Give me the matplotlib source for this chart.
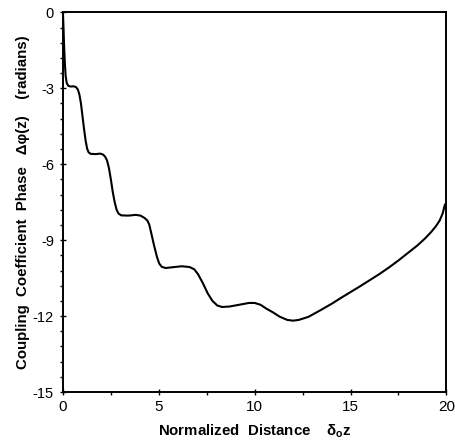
import matplotlib
matplotlib.use("Agg")
import matplotlib.pyplot as plt
from matplotlib.ticker import MultipleLocator

plt.rcParams['font.family'] = ['Liberation Sans', 'DejaVu Sans']
plt.rcParams['mathtext.fontset'] = 'custom'
plt.rcParams['mathtext.rm'] = 'Liberation Sans'
plt.rcParams['mathtext.bf'] = 'Liberation Sans:bold'

# Normalized distance (delta_o z)
distance = [0, 0.03, 0.06, 0.10, 0.14, 0.20, 0.28, 0.40, 0.55, 0.68, 0.78,
            0.86, 0.94, 1.02, 1.10, 1.18, 1.26, 1.34, 1.45, 1.70, 1.95, 2.10,
            2.20, 2.30, 2.40, 2.50, 2.60, 2.70, 2.80, 2.90, 3.05, 3.40, 3.80,
            4.05, 4.25, 4.40, 4.50, 4.60, 4.75, 4.90, 5.02, 5.15, 5.35, 5.70,
            6.20, 6.60, 6.85, 7.05, 7.30, 7.55, 7.80, 8.05, 8.30, 8.70, 9.20,
            9.70, 10.00, 10.30, 10.60, 10.95, 11.30, 11.70, 12.00, 12.30,
            12.80, 13.40, 14.00, 14.50, 15.00, 15.50, 16.00, 16.50, 17.00,
            17.50, 18.00, 18.50, 18.90, 19.20, 19.45, 19.65, 19.80, 19.92]
# Coupling coefficient phase (radians)
phase = [0, -0.6, -1.3, -2.0, -2.5, -2.8, -2.9, -2.93, -2.92, -2.95, -3.05,
         -3.25, -3.60, -4.10, -4.60, -5.05, -5.38, -5.53, -5.59, -5.60, -5.58,
         -5.62, -5.70, -5.85, -6.15, -6.60, -7.10, -7.50, -7.80, -7.95, -8.02,
         -8.03, -8.00, -8.03, -8.12, -8.22, -8.38, -8.70, -9.20, -9.65, -9.92,
         -10.05, -10.10, -10.07, -10.03, -10.06, -10.15, -10.35, -10.70,
         -11.10, -11.40, -11.58, -11.64, -11.62, -11.55, -11.48, -11.48,
         -11.55, -11.70, -11.85, -12.02, -12.15, -12.18, -12.15, -12.03,
         -11.78, -11.52, -11.28, -11.05, -10.82, -10.58, -10.34, -10.08,
         -9.80, -9.50, -9.20, -8.92, -8.68, -8.45, -8.22, -7.95, -7.60]

x_ticks = [0, 5, 10, 15, 20]
y_ticks = [0, -3, -6, -9, -12, -15]

fig = plt.figure(figsize=(4.56, 4.42), dpi=100)
ax = fig.add_axes([0.138, 0.113, 0.841, 0.859])
ax.plot(distance, phase, color='black', lw=1.5)
ax.set_xlim(0, 20)
ax.set_ylim(-15, 0)
ax.set_xticks(x_ticks)
ax.set_yticks(y_ticks)
ax.set_xticklabels([str(v) for v in x_ticks])
ax.set_yticklabels([str(v) for v in y_ticks])
ax.xaxis.set_minor_locator(MultipleLocator(2.5))
ax.yaxis.set_minor_locator(MultipleLocator(0.6))
ax.tick_params(which='major', direction='inout', length=5, width=1.0)
ax.tick_params(which='minor', direction='out', length=2, width=1.0)
ax.tick_params(axis='y', pad=4, labelsize=10.5)
ax.tick_params(axis='x', pad=3, labelsize=11)
for s in ax.spines.values():
    s.set_linewidth(1.4)

ax.set_xlabel(r'Normalized  Distance    δ$_{\mathbf{o}}$z', fontsize=10.8,
              fontweight='bold', labelpad=6)
ax.set_ylabel('Coupling  Coefficient  Phase   Δφ(z)    (radians)', fontsize=10.8,
              fontweight='bold', labelpad=2)

fig.savefig('out.png', dpi=100)
